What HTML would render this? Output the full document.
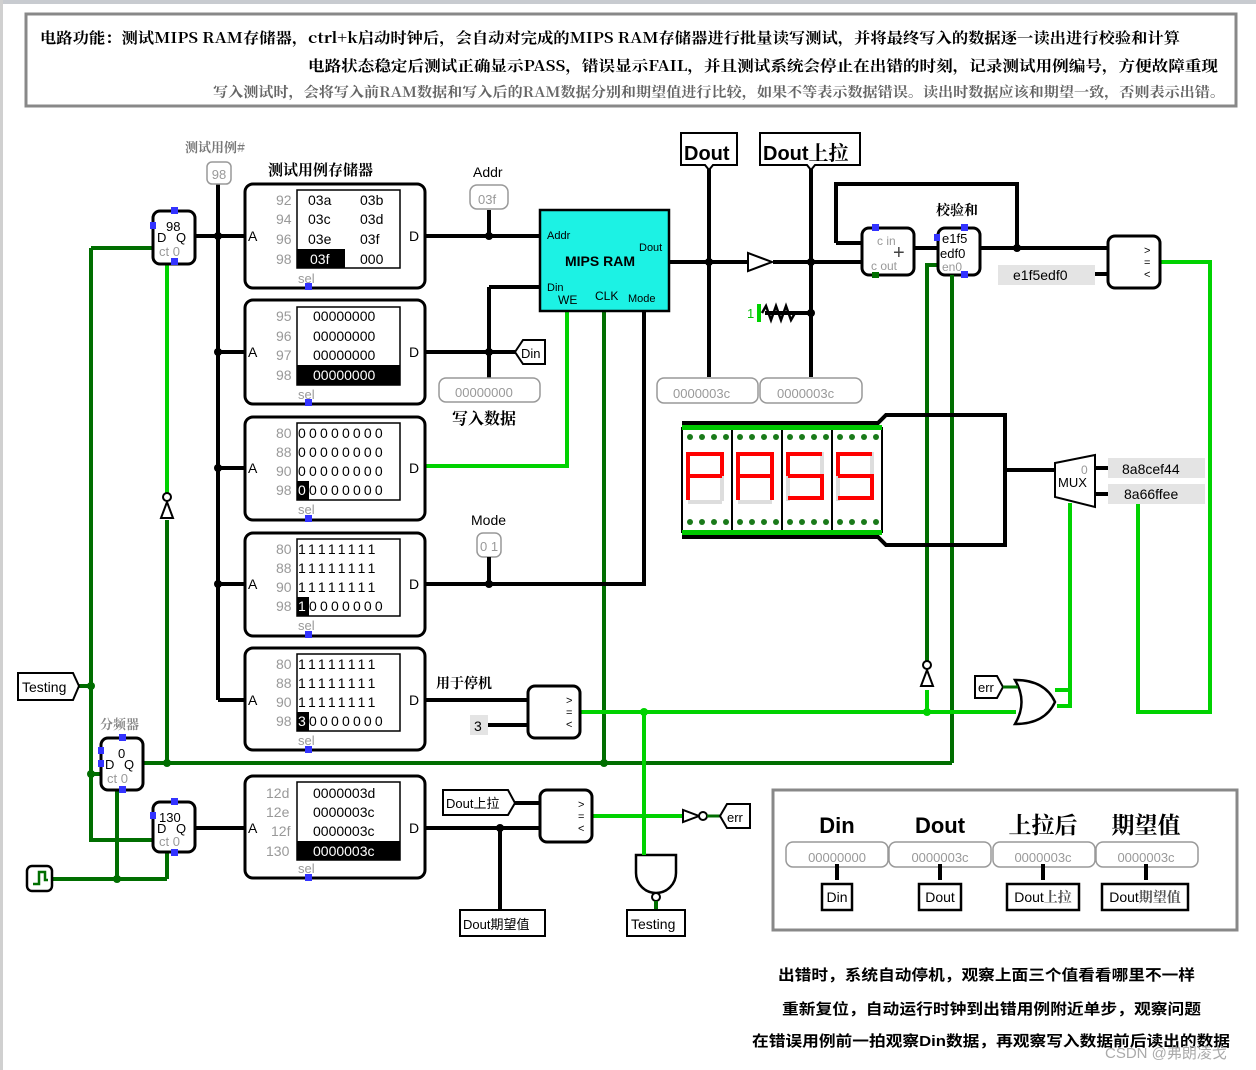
<!DOCTYPE html>
<html><head><meta charset="utf-8"><style>
html,body{margin:0;padding:0;background:#fff}
svg{display:block}
text{font-family:"Liberation Sans","Noto Sans CJK SC",sans-serif}
.cn{font-family:"Noto Serif CJK SC","Noto Sans CJK SC",serif;font-weight:bold}
.k{stroke:#000;stroke-width:4;fill:none}
.g{stroke:#00d200;stroke-width:4;fill:none}
.d{stroke:#006e00;stroke-width:4;fill:none}
.box{fill:#fff;stroke:#000;stroke-width:3}
</style></head><body>
<svg width="1256" height="1070" viewBox="0 0 1256 1070" xmlns="http://www.w3.org/2000/svg">
<rect x="0" y="0" width="1256" height="4" fill="#c8cbd0"/>
<rect x="0" y="0" width="3" height="1070" fill="#d0d0d0"/>
<!-- header -->
<rect x="26" y="14" width="1210" height="92" fill="#fff" stroke="#888" stroke-width="3"/>
<text x="40" y="43" font-size="15" class="cn" textLength="1140" lengthAdjust="spacingAndGlyphs">电路功能：测试MIPS RAM存储器，ctrl+k启动时钟后，会自动对完成的MIPS RAM存储器进行批量读写测试，并将最终写入的数据逐一读出进行校验和计算</text>
<text x="308" y="71" font-size="15" class="cn" textLength="910" lengthAdjust="spacingAndGlyphs">电路状态稳定后测试正确显示PASS，错误显示FAIL，并且测试系统会停止在出错的时刻，记录测试用例编号，方便故障重现</text>
<text x="213" y="97" font-size="14" class="cn" fill="#666" font-weight="normal" textLength="1012" lengthAdjust="spacingAndGlyphs">写入测试时，会将写入前RAM数据和写入后的RAM数据分别和期望值进行比较，如果不等表示数据错误。读出时数据应该和期望一致，否则表示出错。</text>

<!-- wires green dark -->
<path class="d" d="M91 248H155 M91 248V840H153 M78 686H91 M167 520V763 M143 763H952 M952 250V763 M604 311V763 M52 879H167 M117 779V879 M167 852V879 M91 774H102 M937 250H952"/>
<path class="g" d="M167 264V495 M425 466H567V311 M580 712H1016 M644 712V850 M927 712V690 M592 816H683 M1160 262H1210V712H1138V503 M1055 690H1070 M1057 706H1070V503 M1070 503V690"/>
<path class="d" d="M927 668V265H940"/>
<!-- black wires -->
<path class="k" d="M195 236H245 M218 175V700 M218 352H245 M218 468H245 M218 584H245 M218 700H245 M425 236H540 M489 210V236 M425 352H515 M489 352V378 M489 287H540 M489 287V352 M425 584H644V311 M425 700H528 M475 725H528 M195 828H245 M425 828H540 M500 828V910 M510 803H540 M669 262H748 M773 262H862 M709 165V377 M811 165V377 M765 313H811 M836 243H862 M836 243V184H1017V248 M914 248H937 M980 248H1108 M1095 274H1108 M1005 470H1055 M1095 468H1108 M1095 494H1108"/>
<path class="k" d="M682 423H878L886 415H1005V545H886L878 537H682" stroke-width="5"/>
<!-- labels -->
<text x="185" y="152" font-size="13" class="cn" fill="#777" font-weight="normal">测试用例#</text>
<rect x="207" y="162" width="24" height="22" rx="5" fill="#fff" stroke="#999" stroke-width="1.5"/><text x="219" y="179" font-size="13" fill="#999" text-anchor="middle">98</text>
<text x="268" y="175" font-size="15" class="cn">测试用例存储器</text>
<!-- registers -->
<g>
<rect x="153" y="211" width="42" height="53" rx="7" class="box"/>
<text x="166" y="231" font-size="13">98</text><text x="157" y="242" font-size="13">D</text><text x="176" y="242" font-size="13">Q</text><text x="159" y="256" font-size="13" fill="#999">ct 0</text>
<rect x="171" y="207" width="7" height="7" fill="#33f"/><rect x="171" y="258" width="7" height="7" fill="#33f"/><rect x="150" y="222" width="6" height="7" fill="#33f"/>
</g>
<g>
<rect x="101" y="738" width="42" height="52" rx="7" class="box"/>
<text x="118" y="758" font-size="13">0</text><text x="105" y="769" font-size="13">D</text><text x="124" y="769" font-size="13">Q</text><text x="107" y="783" font-size="13" fill="#999">ct 0</text>
<rect x="119" y="734" width="7" height="7" fill="#33f"/><rect x="119" y="786" width="7" height="7" fill="#33f"/><rect x="98" y="747" width="6" height="7" fill="#33f"/><rect x="98" y="760" width="6" height="7" fill="#33f"/>
<text x="100" y="729" font-size="13" class="cn" fill="#888" font-weight="normal">分频器</text>
</g>
<g>
<rect x="153" y="802" width="42" height="50" rx="7" class="box"/>
<text x="159" y="822" font-size="13">130</text><text x="157" y="833" font-size="13">D</text><text x="176" y="833" font-size="13">Q</text><text x="159" y="846" font-size="13" fill="#999">ct 0</text>
<rect x="171" y="798" width="7" height="7" fill="#33f"/><rect x="171" y="849" width="7" height="7" fill="#33f"/><rect x="150" y="812" width="6" height="7" fill="#33f"/>
</g>
<rect x="27" y="866" width="25" height="25" rx="5" fill="#fff" stroke="#000" stroke-width="2.5"/><path d="M33 884H39V872H45V880H48" stroke="#006e00" stroke-width="2.5" fill="none"/>
<path d="M18 673H73L79 686L73 700H18Z" fill="#fff" stroke="#000" stroke-width="2"/><text x="22" y="692" font-size="14">Testing</text>
<!-- not gates -->
<path d="M161 518L167 502L173 518Z" fill="#fff" stroke="#000" stroke-width="2"/><circle cx="167" cy="497" r="4" fill="#fff" stroke="#000" stroke-width="2"/>
<path d="M921 686L927 670L933 686Z" fill="#fff" stroke="#000" stroke-width="2"/><circle cx="927" cy="665" r="4" fill="#fff" stroke="#000" stroke-width="2"/>

<!-- ROM boxes -->
<g font-size="14">
<rect x="245" y="184" width="180" height="104" rx="8" class="box"/>
<rect x="297" y="190" width="103" height="78" fill="#fff" stroke="#000" stroke-width="1.5"/>
<rect x="297" y="249" width="48" height="19" fill="#000"/>
<text x="276" y="205" fill="#999">92</text><text x="276" y="224" fill="#999">94</text><text x="276" y="244" fill="#999">96</text><text x="276" y="264" fill="#999">98</text>
<text x="308" y="205">03a</text><text x="360" y="205">03b</text><text x="308" y="224">03c</text><text x="360" y="224">03d</text><text x="308" y="244">03e</text><text x="360" y="244">03f</text><text x="310" y="264" fill="#fff">03f</text><text x="360" y="264">000</text>
<text x="248" y="241">A</text><text x="409" y="241">D</text><text x="298" y="283" fill="#999" font-size="13">sel</text><rect x="305" y="283" width="7" height="7" fill="#33f"/>

<rect x="245" y="300" width="180" height="104" rx="8" class="box"/>
<rect x="297" y="307" width="103" height="78" fill="#fff" stroke="#000" stroke-width="1.5"/>
<rect x="297" y="365" width="103" height="20" fill="#000"/>
<text x="276" y="321" fill="#999">95</text><text x="276" y="341" fill="#999">96</text><text x="276" y="360" fill="#999">97</text><text x="276" y="380" fill="#999">98</text>
<text x="313" y="321">00000000</text><text x="313" y="341">00000000</text><text x="313" y="360">00000000</text><text x="313" y="380" fill="#fff">00000000</text>
<text x="248" y="357">A</text><text x="409" y="357">D</text><text x="298" y="399" fill="#999" font-size="13">sel</text><rect x="305" y="399" width="7" height="7" fill="#33f"/>

<rect x="245" y="417" width="180" height="103" rx="8" class="box"/>
<rect x="297" y="423" width="103" height="77" fill="#fff" stroke="#000" stroke-width="1.5"/>
<rect x="297" y="481" width="12" height="19" fill="#000"/>
<text x="276" y="438" fill="#999">80</text><text x="276" y="457" fill="#999">88</text><text x="276" y="476" fill="#999">90</text><text x="276" y="495" fill="#999">98</text>
<text x="298" y="438" letter-spacing="3.2">00000000</text><text x="298" y="457" letter-spacing="3.2">00000000</text><text x="298" y="476" letter-spacing="3.2">00000000</text><text x="298" y="495" letter-spacing="3.2"><tspan fill="#fff">0</tspan>0000000</text>
<text x="248" y="473">A</text><text x="409" y="473">D</text><text x="298" y="514" fill="#999" font-size="13">sel</text><rect x="305" y="515" width="7" height="7" fill="#33f"/>

<rect x="245" y="533" width="180" height="103" rx="8" class="box"/>
<rect x="297" y="539" width="103" height="77" fill="#fff" stroke="#000" stroke-width="1.5"/>
<rect x="297" y="597" width="12" height="19" fill="#000"/>
<text x="276" y="554" fill="#999">80</text><text x="276" y="573" fill="#999">88</text><text x="276" y="592" fill="#999">90</text><text x="276" y="611" fill="#999">98</text>
<text x="298" y="554" letter-spacing="3.2">11111111</text><text x="298" y="573" letter-spacing="3.2">11111111</text><text x="298" y="592" letter-spacing="3.2">11111111</text><text x="298" y="611" letter-spacing="3.2"><tspan fill="#fff">1</tspan>0000000</text>
<text x="248" y="589">A</text><text x="409" y="589">D</text><text x="298" y="630" fill="#999" font-size="13">sel</text><rect x="305" y="631" width="7" height="7" fill="#33f"/>

<rect x="245" y="648" width="180" height="102" rx="8" class="box"/>
<rect x="297" y="654" width="103" height="77" fill="#fff" stroke="#000" stroke-width="1.5"/>
<rect x="297" y="712" width="12" height="19" fill="#000"/>
<text x="276" y="669" fill="#999">80</text><text x="276" y="688" fill="#999">88</text><text x="276" y="707" fill="#999">90</text><text x="276" y="726" fill="#999">98</text>
<text x="298" y="669" letter-spacing="3.2">11111111</text><text x="298" y="688" letter-spacing="3.2">11111111</text><text x="298" y="707" letter-spacing="3.2">11111111</text><text x="298" y="726" letter-spacing="3.2"><tspan fill="#fff">3</tspan>0000000</text>
<text x="248" y="705">A</text><text x="409" y="705">D</text><text x="298" y="745" fill="#999" font-size="13">sel</text><rect x="305" y="746" width="7" height="7" fill="#33f"/>

<rect x="245" y="776" width="180" height="102" rx="8" class="box"/>
<rect x="297" y="782" width="103" height="78" fill="#fff" stroke="#000" stroke-width="1.5"/>
<rect x="297" y="841" width="103" height="19" fill="#000"/>
<text x="266" y="798" fill="#999">12d</text><text x="266" y="817" fill="#999">12e</text><text x="271" y="836" fill="#999">12f</text><text x="266" y="856" fill="#999">130</text>
<text x="313" y="798">0000003d</text><text x="313" y="817">0000003c</text><text x="313" y="836">0000003c</text><text x="313" y="856" fill="#fff">0000003c</text>
<text x="248" y="833">A</text><text x="409" y="833">D</text><text x="298" y="873" fill="#999" font-size="13">sel</text><rect x="305" y="874" width="7" height="7" fill="#33f"/>
</g>

<!-- Addr probe -->
<text x="473" y="177" font-size="14">Addr</text>
<rect x="470" y="185" width="38" height="24" rx="7" fill="#fff" stroke="#999" stroke-width="1.5"/><text x="478" y="204" font-size="13" fill="#999">03f</text>
<!-- MIPS RAM -->
<rect x="540" y="210" width="129" height="101" fill="#1cf2e4" stroke="#000" stroke-width="2.5"/>
<text x="547" y="239" font-size="11">Addr</text><text x="639" y="251" font-size="11">Dout</text>
<text x="565" y="266" font-size="14" font-weight="bold">MIPS RAM</text>
<text x="547" y="291" font-size="11">Din</text><text x="558" y="304" font-size="12">WE</text><text x="595" y="300" font-size="12">CLK</text><text x="628" y="302" font-size="11">Mode</text>
<!-- Din tunnel, probe -->
<path d="M515 352L523 340H545V364H523Z" fill="#fff" stroke="#000" stroke-width="2"/><text x="521" y="358" font-size="13">Din</text>
<rect x="439" y="378" width="101" height="24" rx="7" fill="#fff" stroke="#999" stroke-width="1.5"/><text x="455" y="397" font-size="13" fill="#999">00000000</text>
<text x="452" y="424" font-size="16" class="cn">写入数据</text>
<text x="471" y="525" font-size="14">Mode</text>
<rect x="477" y="533" width="24" height="24" rx="6" fill="#fff" stroke="#999" stroke-width="1.5"/><text x="480" y="551" font-size="13" fill="#999">0 1</text>
<path class="k" d="M489 557V584"/>
<text x="436" y="688" font-size="14" class="cn">用于停机</text>
<rect x="470" y="715" width="18" height="20" fill="#e4e4e4"/><text x="474" y="731" font-size="14">3</text>
<!-- comparators -->
<g font-size="11">
<rect x="528" y="686" width="52" height="52" rx="7" class="box"/><text x="566" y="704">&gt;</text><text x="566" y="716">=</text><text x="566" y="728">&lt;</text>
<rect x="540" y="790" width="52" height="52" rx="7" class="box"/><text x="578" y="808">&gt;</text><text x="578" y="820">=</text><text x="578" y="832">&lt;</text>
<rect x="1108" y="236" width="52" height="52" rx="7" class="box"/><text x="1144" y="254">&gt;</text><text x="1144" y="266">=</text><text x="1144" y="278">&lt;</text>
</g>
<path d="M443 790H508L515 803L508 815H443Z" fill="#fff" stroke="#000" stroke-width="2"/><text x="446" y="808" font-size="13">Dout上拉</text>
<path d="M460 910H545V936H460Z" fill="#fff" stroke="#000" stroke-width="2"/><text x="463" y="929" font-size="13">Dout期望值</text>
<!-- not + err -->
<path d="M683 810V822L699 816Z" fill="#fff" stroke="#000" stroke-width="2"/><circle cx="703" cy="816" r="4" fill="#fff" stroke="#000" stroke-width="2"/>
<path d="M707 816H720" stroke="#006e00" stroke-width="3"/>
<path d="M720 816L727 804H750V828H727Z" fill="#fff" stroke="#000" stroke-width="2"/><text x="727" y="822" font-size="13">err</text>
<!-- NAND -->
<path d="M636 855H676V873A20 20 0 0 1 636 873Z" fill="#fff" stroke="#000" stroke-width="2.5"/><circle cx="656" cy="897" r="4" fill="#fff" stroke="#000" stroke-width="2"/>
<path d="M656 901V910" class="d"/>
<path d="M627 910H685V936H627Z" fill="#fff" stroke="#000" stroke-width="2"/><text x="631" y="929" font-size="14">Testing</text>
<path class="g" d="M644 850V855"/>

<!-- Dout tunnels -->
<path d="M681 133H737V165H713L709 170L705 165H681Z" fill="#fff" stroke="#000" stroke-width="2"/><text x="684" y="160" font-size="20" font-weight="bold">Dout</text>
<path d="M760 133H860V165H815L811 170L807 165H760Z" fill="#fff" stroke="#000" stroke-width="2"/><text x="763" y="160" font-size="20" font-weight="bold">Dout<tspan class="cn" font-weight="normal">上拉</tspan></text>
<path d="M748 253V271L772 262Z" fill="#fff" stroke="#000" stroke-width="2"/>
<path d="M759 304V322" stroke="#00d200" stroke-width="4"/><text x="747" y="318" font-size="13" fill="#00c000">1</text>
<path d="M762 313L766 306L771 320L776 306L781 320L786 306L791 320L795 313H800" fill="none" stroke="#000" stroke-width="2.5"/>
<rect x="657" y="378" width="101" height="25" rx="7" fill="#fff" stroke="#999" stroke-width="1.5"/><text x="673" y="398" font-size="13" fill="#999">0000003c</text>
<rect x="760" y="378" width="102" height="25" rx="7" fill="#fff" stroke="#999" stroke-width="1.5"/><text x="777" y="398" font-size="13" fill="#999">0000003c</text>
<!-- adder, checksum reg -->
<rect x="862" y="228" width="52" height="47" rx="7" class="box"/><text x="877" y="245" font-size="12" fill="#999">c in</text><text x="871" y="270" font-size="12" fill="#999">c out</text><text x="893" y="259" font-size="20" fill="#444">+</text>
<rect x="872" y="224" width="7" height="7" fill="#33f"/><rect x="872" y="272" width="7" height="6" fill="#006e00"/>
<text x="936" y="215" font-size="14" class="cn">校验和</text>
<rect x="938" y="228" width="42" height="47" rx="7" class="box"/><text x="942" y="243" font-size="13">e1f5</text><text x="940" y="258" font-size="13">edf0</text><text x="942" y="271" font-size="12" fill="#999">en0</text>
<rect x="961" y="224" width="7" height="7" fill="#33f"/><rect x="961" y="271" width="7" height="7" fill="#33f"/><rect x="934" y="234" width="6" height="7" fill="#33f"/>
<path class="d" d="M952 275V290"/>
<rect x="998" y="265" width="97" height="20" fill="#e4e4e4"/><text x="1013" y="280" font-size="14">e1f5edf0</text>

<!-- 7-seg -->
<rect x="682" y="428" width="200" height="104" fill="#fff" stroke="#000" stroke-width="2"/>
<g stroke="#000" stroke-width="2"><path d="M732 430V530M782 430V530M832 430V530"/></g>
<g fill="#00c800">
<rect x="682" y="425" width="200" height="5"/><rect x="682" y="530" width="200" height="5"/>
</g>
<g fill="#1a7a1a">
<circle cx="690" cy="437" r="3"/><circle cx="702" cy="437" r="3"/><circle cx="714" cy="437" r="3"/><circle cx="726" cy="437" r="3"/><circle cx="740" cy="437" r="3"/><circle cx="752" cy="437" r="3"/><circle cx="764" cy="437" r="3"/><circle cx="776" cy="437" r="3"/><circle cx="790" cy="437" r="3"/><circle cx="802" cy="437" r="3"/><circle cx="814" cy="437" r="3"/><circle cx="826" cy="437" r="3"/><circle cx="840" cy="437" r="3"/><circle cx="852" cy="437" r="3"/><circle cx="864" cy="437" r="3"/><circle cx="876" cy="437" r="3"/>
<circle cx="690" cy="522" r="3"/><circle cx="702" cy="522" r="3"/><circle cx="714" cy="522" r="3"/><circle cx="726" cy="522" r="3"/><circle cx="740" cy="522" r="3"/><circle cx="752" cy="522" r="3"/><circle cx="764" cy="522" r="3"/><circle cx="776" cy="522" r="3"/><circle cx="790" cy="522" r="3"/><circle cx="802" cy="522" r="3"/><circle cx="814" cy="522" r="3"/><circle cx="826" cy="522" r="3"/><circle cx="840" cy="522" r="3"/><circle cx="852" cy="522" r="3"/><circle cx="864" cy="522" r="3"/><circle cx="876" cy="522" r="3"/>
</g>
<g fill="#ddd">
<rect x="720" y="476" width="4" height="25"/><rect x="688" y="500" width="34" height="4"/><rect x="738" y="500" width="34" height="4"/><rect x="820" y="452" width="4" height="24"/><rect x="786" y="476" width="4" height="25"/><rect x="870" y="452" width="4" height="24"/><rect x="836" y="476" width="4" height="25"/>
</g>
<g fill="#f00">
<rect x="688" y="452" width="34" height="4"/><rect x="686" y="452" width="4" height="48"/><rect x="720" y="452" width="4" height="24"/><rect x="688" y="474" width="34" height="4"/>
<rect x="738" y="452" width="34" height="4"/><rect x="736" y="452" width="4" height="48"/><rect x="770" y="452" width="4" height="48"/><rect x="738" y="474" width="34" height="4"/>
<rect x="788" y="452" width="34" height="4"/><rect x="786" y="452" width="4" height="24"/><rect x="788" y="474" width="34" height="4"/><rect x="820" y="474" width="4" height="26"/><rect x="788" y="496" width="34" height="4"/>
<rect x="838" y="452" width="34" height="4"/><rect x="836" y="452" width="4" height="24"/><rect x="838" y="474" width="34" height="4"/><rect x="870" y="474" width="4" height="26"/><rect x="838" y="496" width="34" height="4"/>
</g>
<!-- mux -->
<path d="M1055 463L1095 455V507L1055 497Z" fill="#fff" stroke="#000" stroke-width="2"/>
<text x="1058" y="487" font-size="13">MUX</text><text x="1081" y="474" font-size="12" fill="#999">0</text>
<rect x="1108" y="458" width="97" height="20" fill="#e4e4e4"/><text x="1122" y="474" font-size="14">8a8cef44</text>
<rect x="1108" y="484" width="97" height="20" fill="#e4e4e4"/><text x="1124" y="499" font-size="14">8a66ffee</text>
<!-- OR + err -->
<path d="M1015 680Q1028 702 1015 724Q1045 724 1055 702Q1045 680 1015 680Z" fill="#fff" stroke="#000" stroke-width="2.5"/>
<path d="M975 676H997L1003 687L997 698H975Z" fill="#fff" stroke="#000" stroke-width="2"/><text x="978" y="692" font-size="13">err</text>
<path d="M1003 687H1018" stroke="#006e00" stroke-width="3"/>

<!-- junction dots -->
<g fill="#000"><circle cx="218" cy="236" r="4"/><circle cx="218" cy="352" r="4"/><circle cx="218" cy="468" r="4"/><circle cx="218" cy="584" r="4"/><circle cx="489" cy="236" r="4"/><circle cx="489" cy="352" r="4"/><circle cx="709" cy="262" r="4"/><circle cx="811" cy="262" r="4"/><circle cx="811" cy="313" r="4"/><circle cx="1017" cy="248" r="4"/><circle cx="500" cy="828" r="4"/><circle cx="489" cy="584" r="4"/></g>
<g fill="#006e00"><circle cx="91" cy="686" r="4"/><circle cx="91" cy="774" r="4"/><circle cx="167" cy="763" r="4"/><circle cx="604" cy="763" r="4"/><circle cx="117" cy="879" r="4"/></g>
<g fill="#00d200"><circle cx="644" cy="712" r="4"/><circle cx="927" cy="712" r="4"/></g>

<!-- bottom right box -->
<rect x="773" y="790" width="464" height="140" fill="#fff" stroke="#888" stroke-width="3"/>
<text x="837" y="833" font-size="22" font-weight="bold" text-anchor="middle">Din</text>
<text x="940" y="833" font-size="22" font-weight="bold" text-anchor="middle">Dout</text>
<text x="1043" y="833" font-size="23" class="cn" font-weight="normal" text-anchor="middle">上拉后</text>
<text x="1146" y="833" font-size="23" class="cn" text-anchor="middle">期望值</text>
<g fill="#fff" stroke="#999" stroke-width="1.5"><rect x="786" y="842" width="102" height="25" rx="7"/><rect x="889" y="842" width="102" height="25" rx="7"/><rect x="993" y="842" width="102" height="25" rx="7"/><rect x="1096" y="842" width="102" height="25" rx="7"/></g>
<g font-size="13" fill="#999" text-anchor="middle"><text x="837" y="862">00000000</text><text x="940" y="862">0000003c</text><text x="1043" y="862">0000003c</text><text x="1146" y="862">0000003c</text></g>
<path class="k" d="M837 864V880M940 864V880M1043 864V880M1146 864V880" stroke-width="3"/>
<g fill="#fff" stroke="#000" stroke-width="2.5"><rect x="822" y="884" width="30" height="26"/><rect x="919" y="884" width="42" height="26"/><rect x="1007" y="884" width="72" height="26"/><rect x="1102" y="884" width="86" height="26"/></g>
<g font-size="14" text-anchor="middle"><text x="837" y="902">Din</text><text x="940" y="902">Dout</text><text x="1043" y="902">Dout<tspan class="cn" font-weight="normal" fill="#555">上拉</tspan></text><text x="1145" y="902">Dout<tspan class="cn" font-weight="normal" fill="#555">期望值</tspan></text></g>

<g class="cn" font-size="15">
<text x="778" y="980" textLength="417" lengthAdjust="spacingAndGlyphs">出错时，系统自动停机，观察上面三个值看看哪里不一样</text>
<text x="782" y="1014" textLength="419" lengthAdjust="spacingAndGlyphs">重新复位，自动运行时钟到出错用例附近单步，观察问题</text>
<text x="752" y="1046" textLength="478" lengthAdjust="spacingAndGlyphs">在错误用例前一拍观察Din数据，再观察写入数据前后读出的数据</text>
</g>
<text x="1105" y="1058" font-size="15" fill="#aaa">CSDN @弗朗凌戈</text>
</svg>
</body></html>
